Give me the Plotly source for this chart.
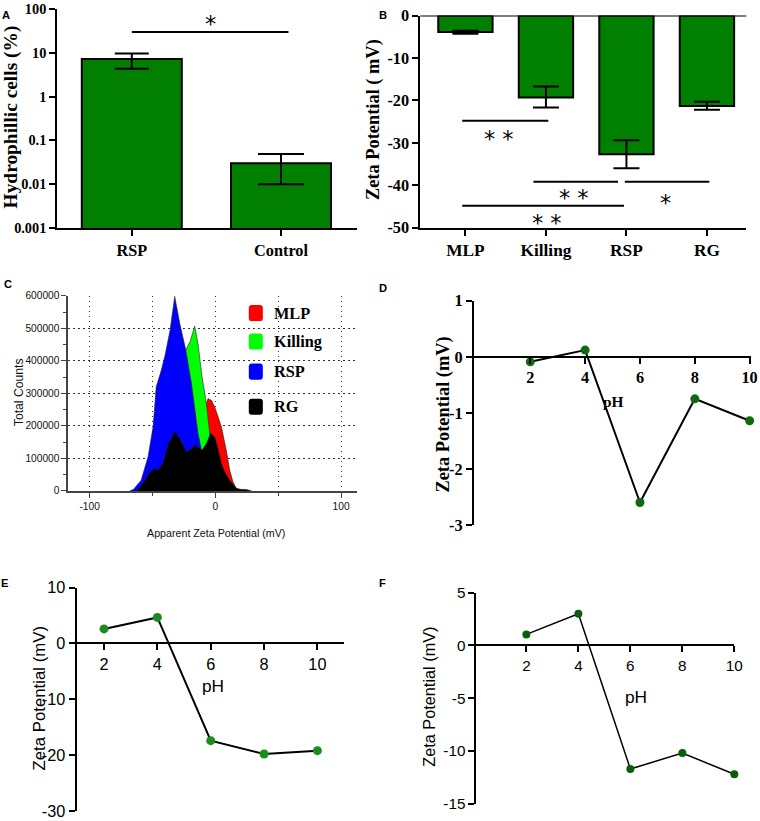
import math
import plotly.graph_objects as go

W, H = 760, 821
# the photographed page appears scaled/shifted; reference pixels are mapped through this
SX, BX = 0.985, 2.0
SY, BY = 0.976, 9.2
K = 1 / 0.98  # font compensation
SERIF = "Liberation Serif"
SANS = "Liberation Sans"
STAR = "DejaVu Sans"

# ---------------- data ----------------
# Panel A
a_groups = ["RSP", "Control"]
a_values = [7.2, 0.03]
a_err_hi = [9.6, 0.049]
a_err_lo = [4.3, 0.01]
a_tickvals = [0.001, 0.01, 0.1, 1, 10, 100]
a_ticktext = ["0.001", "0.01", "0.1", "1", "10", "100"]

# Panel B
b_groups = ["MLP", "Killing", "RSP", "RG"]
b_values = [-3.9, -19.3, -32.7, -21.3]
b_err_hi = [-3.6, -16.7, -29.4, -20.3]
b_err_lo = [-4.3, -21.7, -36.0, -22.2]
b_tickvals = [0, -10, -20, -30, -40, -50]

# Panel C (zeta distributions)
c_names = ["MLP", "Killing", "RSP", "RG"]
c_colors = ["#ff0000", "#00ff00", "#0000ff", "#000000"]
mlp_x = [-50, -40, -30, -20, -12, -7.5, -5.8, -3, -0.5, 2, 4.8, 8.7, 11.4, 14, 16.7, 19]
mlp_y = [0, 40000, 100000, 170000, 225000, 265000, 284000, 278000, 258000, 230000,
         197000, 125000, 64000, 28000, 7000, 0]
kill_x = [-58, -50, -42, -35, -28, -23.5, -20, -16.4, -13.8, -10.6, -7.1, -4.5, -1, 4, 10]
kill_y = [0, 60000, 180000, 330000, 410000, 433000, 460000, 507000, 453000, 351000,
          269000, 177000, 110000, 40000, 0]
rsp_x = [-68, -65, -59, -53.5, -49.5, -47, -43, -40, -36, -32.3, -28.3, -23.5, -19,
         -13.8, -11, -6, -2, 2]
rsp_y = [0, 5000, 33000, 105000, 197000, 320000, 371000, 417000, 494000, 598000,
         515000, 433000, 330000, 177000, 125000, 50000, 15000, 0]
rg_x = [-62, -56, -52.2, -48.2, -45.5, -41.6, -37.6, -32.3, -28.3, -23, -19.1, -15.9,
        -13.8, -10.6, -7.1, -3.7, -0.5, 2.1, 4.8, 7.5, 11.4, 16.7, 20, 24.7, 29]
rg_y = [0, 33000, 58000, 69000, 64000, 86000, 143000, 182000, 161000, 120000, 130000,
        141000, 135000, 125000, 146000, 177000, 166000, 130000, 84000, 58000, 33000,
        8000, 5000, 4000, 0]
c_series = [(mlp_x, mlp_y), (kill_x, kill_y), (rsp_x, rsp_y), (rg_x, rg_y)]
c_xticks = [-100, 0, 100]

# Panels D, E, F
ph = [2, 4, 6, 8, 10]
d_zeta = [-0.09, 0.12, -2.6, -0.75, -1.14]
e_zeta = [2.6, 4.66, -17.4, -19.8, -19.2]
f_zeta = [1.04, 3.0, -11.7, -10.2, -12.2]
d_yticks = [1, 0, -1, -2, -3]
e_yticks = [10, 0, -10, -20, -30]
f_yticks = [5, 0, -5, -10, -15]


def clamp(v):
    return min(1.0, max(0.0, v))


def px(p):
    return clamp(((p - BX) / SX) / W)


def py(p):
    return clamp(1 - ((p - BY) / SY) / H)


def dx(p0, p1):
    return [px(p0), px(p1)]


def dy(top, bottom):
    return [py(bottom), py(top)]


def fs(s):
    return round(s * K, 1)


def zero_pos(dom, rng):
    return dom[0] + (0 - rng[0]) / (rng[1] - rng[0]) * (dom[1] - dom[0])


fig = go.Figure()

# ---------------- Panel A ----------------
for i, g in enumerate(a_groups):
    fig.add_trace(go.Bar(
        x=[g], y=[a_values[i]], width=0.67,
        marker=dict(color="#007f00", line=dict(color="black", width=2)),
        error_y=dict(type="data", array=[a_err_hi[i] - a_values[i]],
                     arrayminus=[a_values[i] - a_err_lo[i]],
                     color="black", thickness=2, width=[17, 23][i]),
        xaxis="x", yaxis="y", showlegend=False))

# ---------------- Panel B ----------------
fig.add_trace(go.Bar(
    x=b_groups, y=b_values, width=0.675,
    marker=dict(color="#007f00", line=dict(color="black", width=2)),
    error_y=dict(type="data", array=[h - v for h, v in zip(b_err_hi, b_values)],
                 arrayminus=[v - l for v, l in zip(b_values, b_err_lo)],
                 color="black", thickness=2, width=13),
    xaxis="x2", yaxis="y2", showlegend=False))

# ---------------- Panel C ----------------
for name, col, (xs, ys) in zip(c_names, c_colors, c_series):
    fig.add_trace(go.Scatter(
        x=xs, y=ys, mode="lines", fill="tozeroy", fillcolor=col,
        line=dict(color="#222222", width=0.6), name=name,
        xaxis="x3", yaxis="y3", showlegend=False))

# ---------------- Panels D/E/F ----------------
for vals, ax, mcol, lw, ms in [(d_zeta, "4", "#0e6a0e", 2, 9),
                               (e_zeta, "5", "#1c8c1c", 2, 9),
                               (f_zeta, "6", "#0a5e0a", 1.5, 8)]:
    fig.add_trace(go.Scatter(
        x=ph, y=vals, mode="lines+markers",
        line=dict(color="black", width=lw),
        marker=dict(color=mcol, size=ms),
        cliponaxis=False, xaxis="x" + ax, yaxis="y" + ax, showlegend=False))


# ---------------- axes ----------------
def bold(size, fam=SERIF):
    return dict(family=fam, size=fs(size), color="black", weight="bold")


def plain(size, fam=SANS, color="black"):
    return dict(family=fam, size=fs(size), color=color)


axline = dict(showline=True, linecolor="black", linewidth=2, ticks="outside",
              tickcolor="black", tickwidth=2, ticklen=6, showgrid=False, zeroline=False)

A_x, A_y = dx(59, 358), dy(7, 228)
B_x, B_y = dx(421, 746), dy(15.7, 227.7)
C_x, C_y = dx(70, 358.3), dy(295.7, 490.7)
D_x, D_y = dx(474.3, 752), dy(300.7, 524.7)
E_x, E_y = dx(78.3, 345), dy(587.3, 813.3)
F_x, F_y = dx(476.7, 734), dy(592.3, 803.3)
D_r, E_r, F_r = [-3, 1], [-30, 10], [-15, 5]

grid = dict(showgrid=True, gridcolor="#333333", gridwidth=1.2, griddash="1.5px,3.5px")

fig.update_layout(
    width=W, height=H, margin=dict(l=0, r=0, t=0, b=0),
    paper_bgcolor="white", plot_bgcolor="rgba(0,0,0,0)", showlegend=False,
    xaxis=dict(domain=A_x, anchor="y", type="category", range=[-0.5, 1.51],
               tickfont=bold(16), **axline),
    yaxis=dict(domain=A_y, anchor="x", type="log", range=[-3, 2],
               tickvals=a_tickvals, ticktext=a_ticktext, tickfont=bold(14), **axline),
    xaxis2=dict(domain=B_x, anchor="y2", type="category", range=[-0.56, 3.49],
                tickfont=bold(17), **axline),
    yaxis2=dict(domain=B_y, anchor="x2", range=[-50, 0], tickvals=b_tickvals,
                ticktext=[str(v) for v in b_tickvals], tickfont=bold(16), **axline),
    xaxis3=dict(domain=C_x, anchor="y3", range=[-117, 113], tickvals=c_xticks,
                ticktext=[str(v) for v in c_xticks], showline=True, linecolor="#444444",
                linewidth=1.5, ticks="outside", ticklen=5, tickcolor="#444444",
                zeroline=False, tickfont=plain(10, color="#111111"),
                minor=dict(tickvals=[-50, 50], ticks="outside", ticklen=3,
                           tickcolor="#444444", **grid),
                **grid),
    yaxis3=dict(domain=C_y, anchor="x3", range=[0, 600000], dtick=100000,
                tickformat="d", showline=True, linecolor="#444444", linewidth=1.5,
                ticks="outside", ticklen=5, tickcolor="#444444", zeroline=False,
                tickfont=plain(10, color="#111111"),
                minor=dict(dtick=50000, ticks="outside", ticklen=3, tickcolor="#444444"),
                **grid),
    xaxis4=dict(domain=D_x, anchor="free", position=zero_pos(D_y, D_r),
                range=[-0.06, 10.05], tickvals=ph, tickfont=bold(16), **axline),
    yaxis4=dict(domain=D_y, anchor="x4", range=D_r, tickvals=d_yticks,
                ticktext=[str(v) for v in d_yticks], tickfont=bold(16), **axline),
    xaxis5=dict(domain=E_x, anchor="free", position=zero_pos(E_y, E_r),
                range=[0.97, 11], tickvals=ph, tickfont=plain(16), **axline),
    yaxis5=dict(domain=E_y, anchor="x5", range=E_r, tickvals=e_yticks,
                ticktext=[str(v) for v in e_yticks], tickfont=plain(16), **axline),
    xaxis6=dict(domain=F_x, anchor="free", position=zero_pos(F_y, F_r),
                range=[0.07, 10], tickvals=ph, tickfont=plain(15), **axline),
    yaxis6=dict(domain=F_y, anchor="x6", range=F_r, tickvals=f_yticks,
                ticktext=[str(v) for v in f_yticks], tickfont=plain(15), **axline),
)
fig.update_layout(xaxis6=dict(linewidth=1.5, tickwidth=1.5),
                  yaxis6=dict(linewidth=1.5, tickwidth=1.5))

shapes = []
ann = []

# top line of panel B at zero
shapes.append(dict(type="line", xref="x2 domain", yref="y2", x0=0, x1=1, y0=0, y1=0,
                   line=dict(color="black", width=2)))

# significance bar A (shape y in data units)
shapes.append(dict(type="line", xref="x", yref="y", x0=0.0, x1=1.05, y0=30, y1=30,
                   line=dict(color="black", width=2)))
ann.append(dict(xref="x", yref="y", x=0.53, y=math.log10(45), text="*", showarrow=False,
                font=dict(family=STAR, size=fs(22), color="black")))

# significance bars B
b_sig = [(-0.04, 1.03, -24.8, 0.42, -29.1, "* *"),
         (0.845, 1.895, -39.2, 1.35, -42.9, "* *"),
         (1.98, 3.03, -39.2, 2.49, -44.1, "*"),
         (-0.04, 1.97, -44.8, 1.01, -48.8, "* *")]
for x0, x1, yl, xs, ys, t in b_sig:
    shapes.append(dict(type="line", xref="x2", yref="y2", x0=x0, x1=x1, y0=yl, y1=yl,
                       line=dict(color="black", width=2)))
    ann.append(dict(xref="x2", yref="y2", x=xs, y=ys, text=t, showarrow=False,
                    font=dict(family=STAR, size=fs(22), color="black")))


# legend C (rounded swatches)
def rounded_rect(x0p, x1p, ytop, ybot, r=3):
    X0, X1 = px(x0p), px(x1p)
    Y0, Y1 = py(ybot), py(ytop)
    rx, ry = r / W, r / H
    return (f"M{X0 + rx},{Y0} L{X1 - rx},{Y0} Q{X1},{Y0} {X1},{Y0 + ry} "
            f"L{X1},{Y1 - ry} Q{X1},{Y1} {X1 - rx},{Y1} L{X0 + rx},{Y1} "
            f"Q{X0},{Y1} {X0},{Y1 - ry} L{X0},{Y0 + ry} Q{X0},{Y0} {X0 + rx},{Y0} Z")


leg_rows = [313, 341.5, 371.5, 406.5]
for name, col, yc in zip(c_names, c_colors, leg_rows):
    shapes.append(dict(type="path", xref="paper", yref="paper",
                       path=rounded_rect(250, 264, yc - 8, yc + 8),
                       fillcolor=col, line=dict(width=0)))
    ann.append(dict(xref="paper", yref="paper", x=px(273), y=py(yc), text=name,
                    xanchor="left", yanchor="middle", showarrow=False, font=bold(16)))


# axis titles
def ytitle(text, xc, yc, font):
    ann.append(dict(xref="paper", yref="paper", x=px(xc), y=py(yc), text=text,
                    textangle=-90, showarrow=False, xanchor="center", yanchor="middle",
                    font=font))


ytitle("Hydrophillic cells (%)", 12.5, 117, bold(19))
ytitle("Zeta Potential ( mV)", 375, 120, bold(18))
ytitle("Total Counts", 21, 392, plain(12, color="#111111"))
ytitle("Zeta Potential (mV)", 444, 414, bold(18))
ytitle("Zeta Potential (mV)", 41, 698, plain(16.5))
ytitle("Zeta Potential (mV)", 430, 696, plain(16))

ann.append(dict(xref="paper", yref="paper", x=px(217), y=py(533),
                xanchor="center", yanchor="middle",
                text="Apparent Zeta Potential (mV)", showarrow=False,
                font=plain(10.5, color="#111111")))
ann.append(dict(xref="x4", yref="y4", x=5.04, y=-0.80, text="pH", showarrow=False,
                font=bold(15)))
ann.append(dict(xref="x5", yref="y5", x=6.1, y=-7.7, text="pH", showarrow=False,
                font=plain(17)))
ann.append(dict(xref="x6", yref="y6", x=6.23, y=-4.9, text="pH", showarrow=False,
                font=plain(17)))

# panel letters
for t, lx, ly in [("A", 7.5, 7.5), ("B", 383.5, 6.7), ("C", 10, 284),
                  ("D", 384, 288), ("E", 7, 583), ("F", 383, 583)]:
    ann.append(dict(xref="paper", yref="paper", x=max(px(lx), 5 / W),
                    y=min(py(ly), 1 - 6 / H),
                    text=t, showarrow=False, xanchor="center", yanchor="middle",
                    font=dict(family=SANS, size=fs(11), color="black", weight="bold")))

fig.update_layout(shapes=shapes, annotations=ann)
fig.write_html(
    "out.html",
    config={"displayModeBar": False},
    post_script="document.body.style.margin='0';document.body.style.overflow='hidden';",
)
